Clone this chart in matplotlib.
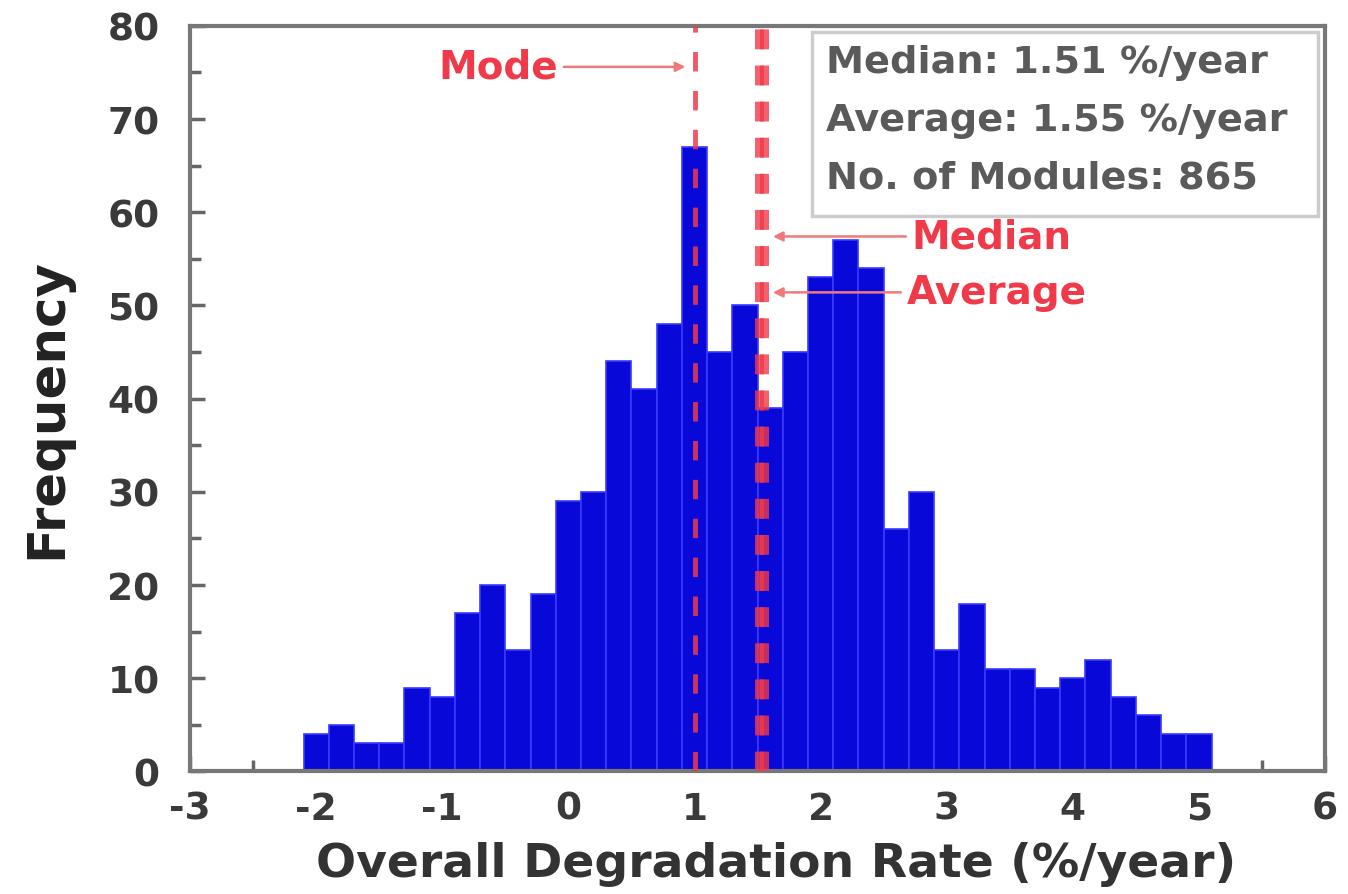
import numpy as np
import matplotlib
matplotlib.use("Agg")
import matplotlib.pyplot as plt
from matplotlib.patches import Rectangle

# histogram counts, bins of 0.2 %/year starting at -2.1
counts = [4, 5, 3, 3, 9, 8, 17, 20, 13, 19, 29, 30, 44, 41, 48, 67, 45, 50,
          39, 45, 53, 57, 54, 26, 30, 13, 18, 11, 11, 9, 10, 12, 8, 6, 4, 4]
bin_start = -2.1
bin_width = 0.2

mode_val = 1.0
median_val = 1.51
average_val = 1.55
n_modules = 865

stats_lines = ["Median: 1.51 %/year", "Average: 1.55 %/year", "No. of Modules: 865"]

red = "#f03a4a"
plt.rcParams['font.family'] = ['DejaVu Sans']
plt.rcParams['axes.unicode_minus'] = False

fig = plt.figure(figsize=(13.48, 8.95), dpi=100)
ax = fig.add_axes([0.141, 0.137, 0.842, 0.833])

lefts = bin_start + bin_width * np.arange(len(counts))
ax.bar(lefts, counts, width=bin_width, align='edge', color='#0808d8',
       edgecolor='#3a3aff', linewidth=1.2, zorder=2)

# vertical marker lines
ax.axvline(mode_val, color=red, lw=3.5, ls=(0, (4, 4)), alpha=0.85, zorder=3)
ax.axvline(median_val, color=red, lw=6.5, ls=(0, (2.2, 1.8)), alpha=0.8, zorder=3)
ax.axvline(average_val, color=red, lw=6.5, ls=(0, (2.2, 1.8)), alpha=0.8, zorder=3)

arrow = dict(arrowstyle='-|>', color='#f07a7a', lw=1.8, mutation_scale=14)
ax.annotate("Mode", xy=(0.95, 75.6), xytext=(-0.08, 75.6), color=red,
            fontsize=28, fontweight='bold', ha='right', va='center', arrowprops=arrow)
ax.annotate("Median", xy=(1.6, 57.4), xytext=(2.72, 57.4), color=red,
            fontsize=28, fontweight='bold', ha='left', va='center', arrowprops=arrow)
ax.annotate("Average", xy=(1.6, 51.4), xytext=(2.68, 51.4), color=red,
            fontsize=28, fontweight='bold', ha='left', va='center', arrowprops=arrow)

# stats box
ax.add_patch(Rectangle((0.548, 0.745), 0.446, 0.247, transform=ax.transAxes,
                       facecolor='white', edgecolor='#cccccc', lw=2.5, zorder=4))
for i, line in enumerate(stats_lines):
    ax.text(0.560, 0.951 - i * 0.077, line, transform=ax.transAxes, fontsize=27.5,
            fontweight='bold', color='#5a5a5a', ha='left', va='center', zorder=5)

ax.set_xlim(-3, 6)
ax.set_ylim(0, 80)
ax.set_xticks(range(-3, 7))
ax.set_yticks(range(0, 81, 10))
ax.set_xticks(np.arange(-2.5, 6, 1.0), minor=True)
ax.set_yticks(range(5, 80, 10), minor=True)
ax.tick_params(which='both', direction='in', color='#666666', width=2.5,
               top=False, right=False)
ax.tick_params(which='major', length=11, labelsize=27, labelcolor='#3a3a3a')
ax.tick_params(axis='x', which='major', pad=14)
ax.tick_params(axis='y', which='major', pad=22)
ax.tick_params(which='minor', length=8)
for lab in ax.get_xticklabels() + ax.get_yticklabels():
    lab.set_fontweight('bold')
for sp in ax.spines.values():
    sp.set_color('#777777')
    sp.set_linewidth(3)

ax.set_xlabel("Overall Degradation Rate (%/year)", fontsize=34, fontweight='bold',
              color='#333333')
ax.xaxis.set_label_coords(0.516, -0.093)
ax.set_ylabel("Frequency", fontsize=37, fontweight='bold', color='#222222')
ax.yaxis.set_label_coords(-0.104, 0.488)

fig.savefig("out.png", dpi=100)
